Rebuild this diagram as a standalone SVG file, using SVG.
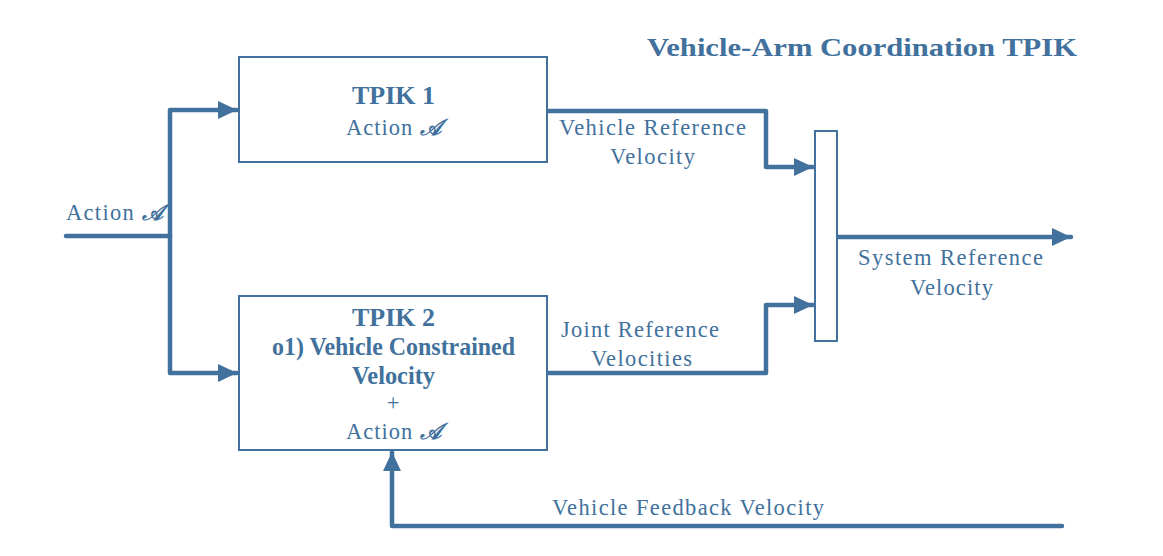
<svg xmlns="http://www.w3.org/2000/svg" width="1163" height="556" viewBox="0 0 1163 556">
<style>
.bx{fill:#fff;stroke:#41719c;stroke-width:2}
.ln{fill:none;stroke:#41719c;stroke-width:4.5;stroke-linecap:round;stroke-linejoin:round}
.t{font-family:"Liberation Serif","DejaVu Serif",serif;fill:#41719c;font-size:22.5px}
.b{font-weight:bold;font-size:25px}
.s{font-style:italic;font-weight:bold}
</style>
<defs>
<marker id="ah" markerUnits="userSpaceOnUse" markerWidth="20" markerHeight="20" refX="19" refY="9" orient="auto">
<path d="M0,0 L19,9 L0,18 z" fill="#41719c"/>
</marker>
</defs>
<rect width="1163" height="556" fill="#fff"/>
<text class="t b" x="647" y="56" font-size="28" textLength="430" lengthAdjust="spacingAndGlyphs">Vehicle-Arm Coordination TPIK</text>
<g id="connectors">
<path class="ln" d="M66,236 L170,236"/>
<path class="ln" d="M170,236 L170,110 L237,110" marker-end="url(#ah)"/>
<path class="ln" d="M170,236 L170,373 L237,373" marker-end="url(#ah)"/>
<path class="ln" d="M547,111 L766,111 L766,167 L813,167" marker-end="url(#ah)"/>
<path class="ln" d="M547,373 L766,373 L766,305 L813,305" marker-end="url(#ah)"/>
<path class="ln" d="M837,237 L1071,237" marker-end="url(#ah)"/>
<path class="ln" d="M1062,526 L392,526 L392,452" marker-end="url(#ah)"/>
</g>
<g id="tpik1">
<rect class="bx" x="239" y="57" width="308" height="105"/>
<text class="t b" x="352" y="104" textLength="83" lengthAdjust="spacingAndGlyphs">TPIK 1</text>
<text class="t" x="346" y="135" textLength="95" lengthAdjust="spacing">Action <tspan class="s">𝒜</tspan></text>
</g>
<g id="tpik2">
<rect class="bx" x="239" y="296" width="308" height="154"/>
<text class="t b" x="352" y="326" textLength="83" lengthAdjust="spacingAndGlyphs">TPIK 2</text>
<text class="t b" x="272" y="355" font-size="22" textLength="243" lengthAdjust="spacingAndGlyphs">o1) Vehicle Constrained</text>
<text class="t b" x="352" y="384" font-size="22" textLength="83" lengthAdjust="spacingAndGlyphs">Velocity</text>
<text class="t" x="393" y="410" font-size="17" text-anchor="middle">+</text>
<text class="t" x="346" y="439" textLength="95" lengthAdjust="spacing">Action <tspan class="s">𝒜</tspan></text>
</g>
<g id="sum">
<rect class="bx" x="815" y="131" width="22" height="210"/>
</g>
<g id="labels">
<text class="t" x="66" y="220" textLength="97" lengthAdjust="spacing">Action <tspan class="s">𝒜</tspan></text>
<text class="t" x="559" y="135" textLength="187" lengthAdjust="spacing">Vehicle Reference</text>
<text class="t" x="610" y="164" textLength="85" lengthAdjust="spacing">Velocity</text>
<text class="t" x="561" y="337" textLength="158" lengthAdjust="spacing">Joint Reference</text>
<text class="t" x="591" y="366" textLength="101" lengthAdjust="spacing">Velocities</text>
<text class="t" x="858" y="265" textLength="185" lengthAdjust="spacing">System Reference</text>
<text class="t" x="910" y="295" textLength="83" lengthAdjust="spacing">Velocity</text>
<text class="t" x="552" y="515" textLength="272" lengthAdjust="spacing">Vehicle Feedback Velocity</text>
</g>
</svg>
